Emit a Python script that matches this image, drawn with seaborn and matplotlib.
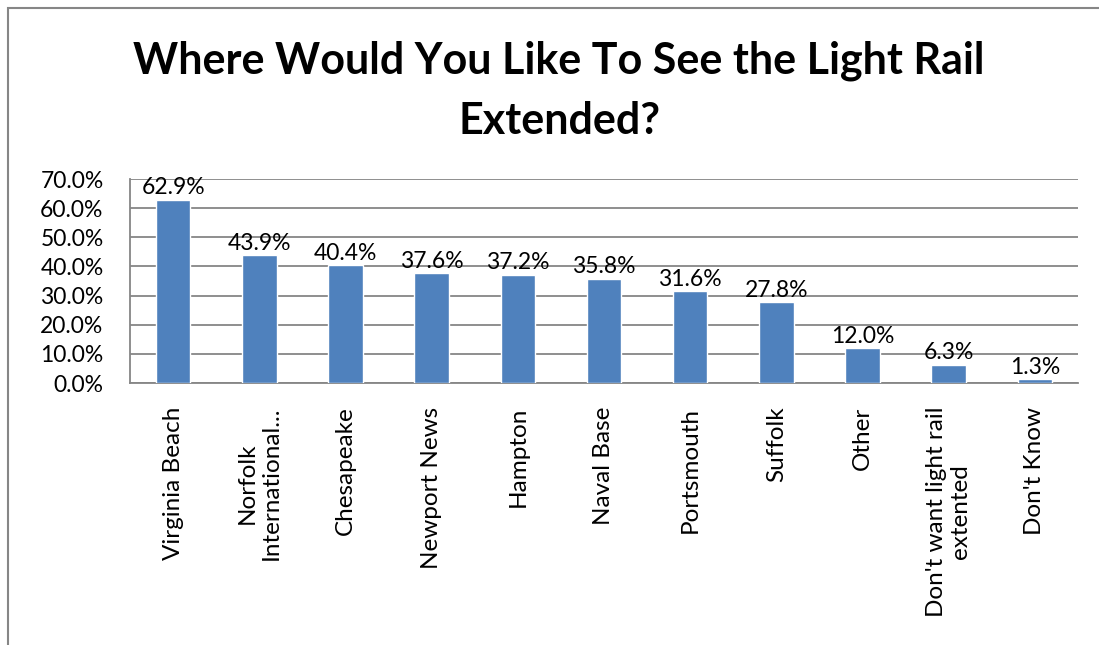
import matplotlib
matplotlib.use("Agg")
import matplotlib.pyplot as plt
import seaborn as sns
import pandas as pd
from matplotlib.patches import Rectangle
from matplotlib.ticker import FuncFormatter, MultipleLocator

categories = ["Virginia Beach", "Norfolk\nInternational...", "Chesapeake", "Newport News",
              "Hampton", "Naval Base", "Portsmouth", "Suffolk", "Other",
              "Don't want light rail\nextented", "Don't Know"]
values = [62.9, 43.9, 40.4, 37.6, 37.2, 35.8, 31.6, 27.8, 12.0, 6.3, 1.3]
title = "Where Would You Like To See the Light Rail\nExtended?"

sns.set_theme(style="white")
plt.rcParams['font.family'] = ['Lato', 'DejaVu Sans']
plt.rcParams['text.color'] = 'black'

W, H = 1099, 645
fig = plt.figure(figsize=(W / 100, H / 100), dpi=100)
ax = fig.add_axes([130 / W, 1 - 383 / H, (1078 - 130) / W, (383 - 179) / H])

df = pd.DataFrame({"cat": categories, "val": values})
sns.barplot(data=df, x="cat", y="val", color="#4F81BD", saturation=1, width=0.4, ax=ax, zorder=3)

ax.set_ylim(0, 70)
ax.yaxis.set_major_locator(MultipleLocator(10))
ax.yaxis.set_major_formatter(FuncFormatter(lambda v, p: f"{v:.1f}%"))
ax.grid(axis="y", color="#868686", linewidth=1.3, zorder=0)
ax.set_axisbelow(True)
for s in ["top", "right"]:
    ax.spines[s].set_visible(False)
ax.spines["left"].set_color("#868686")
ax.spines["bottom"].set_color("#868686")
ax.spines["left"].set_linewidth(1.3)
ax.spines["bottom"].set_linewidth(1.3)
ax.set_xlabel("")
ax.set_ylabel("")
ax.tick_params(axis="y", length=0, pad=19, labelsize=16.5, labelcolor="black")
ax.tick_params(axis="x", length=0, pad=17, labelsize=17.5, labelcolor="black")
for lbl in ax.get_xticklabels():
    lbl.set_rotation(90)
    lbl.set_ha("center")
    lbl.set_va("top")
    lbl.set_multialignment("center")

for i, v in enumerate(values):
    ax.annotate(f"{v:.1f}%", (i, v), xytext=(0, 1), textcoords="offset points",
                ha="center", va="bottom", fontsize=16.5, color="black", zorder=4)

fig.text(559 / W, 1 - 91 / H, title, ha="center", va="center",
         fontsize=31, fontweight="bold", linespacing=1.6, color="black")

fig.patches.append(Rectangle((8 / W, -0.05), 1.1, 1 - 8 / H + 0.05, transform=fig.transFigure,
                             fill=False, edgecolor="#868686", linewidth=1.5))

fig.savefig("out.png", dpi=100)
